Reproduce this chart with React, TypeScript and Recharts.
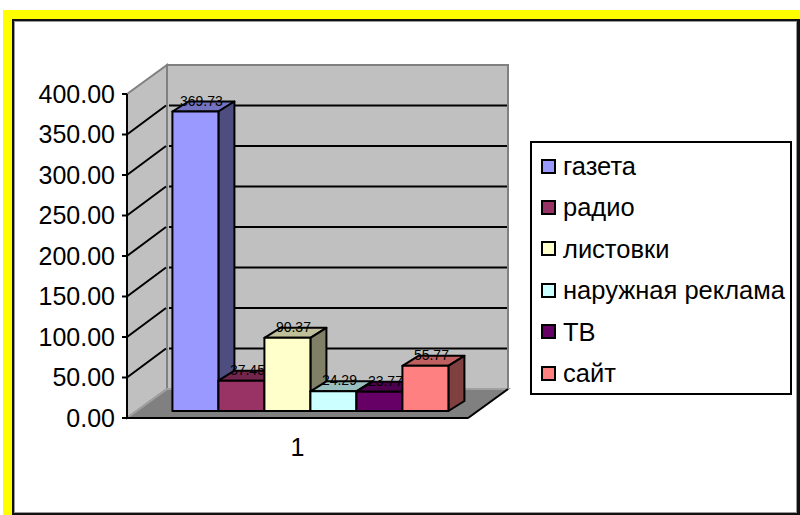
import React from "react";
import {
  BarChart,
  Bar,
  XAxis,
  YAxis,
  CartesianGrid,
  Legend,
  LabelList,
  usePlotArea,
} from "recharts";

// ─── Chart data ───────────────────────────────────────────
const categories = ["1"];
const seriesNames = ["газета", "радио", "листовки", "наружная реклама", "ТВ", "сайт"];
const seriesValues = [369.73, 37.45, 90.37, 24.29, 23.77, 55.77];
const yTicks = [0, 50, 100, 150, 200, 250, 300, 350, 400];

// front / top / side faces of each column
const frontColors = ["#9999FF", "#993366", "#FFFFCC", "#CCFFFF", "#660066", "#FF8080"];
const topColors = ["#7373BF", "#73264D", "#BFBF99", "#99BFBF", "#4D004D", "#BF6060"];
const sideColors = ["#4D4D80", "#4D1A33", "#808066", "#668080", "#330033", "#804040"];

const data = categories.map((category) => {
  const row: Record<string, string | number> = { category };
  seriesNames.forEach((name, i) => {
    row[name] = seriesValues[i];
  });
  return row;
});

// ─── 3D offsets ───────────────────────────────────────────
const WALL_DX = 40;
const WALL_DY = 29;
const BAR_DX = 16;
const BAR_DY = 10;
const BAR_SHIFT_X = 12; // the columns sit off-centre on the floor
const BAR_SHIFT_Y = 7; // and a little behind its front edge

const FONT = "'Liberation Sans', Arial, sans-serif";

// ─── Walls and floor ──────────────────────────────────────
function Walls() {
  const plot = usePlotArea();
  if (!plot) return null;
  const { x, y, width, height } = plot;
  const bottom = y + height;
  const right = x + width;
  return (
    <g>
      <polygon
        points={`${x},${y} ${x + WALL_DX},${y - WALL_DY} ${x + WALL_DX},${bottom - WALL_DY} ${x},${bottom}`}
        fill="#C0C0C0"
        stroke="#808080"
        strokeWidth={2}
      />
      <rect
        x={x + WALL_DX}
        y={y - WALL_DY}
        width={width}
        height={height}
        fill="#C0C0C0"
        stroke="#808080"
        strokeWidth={2}
      />
      <polygon
        points={`${x},${bottom} ${x + WALL_DX},${bottom - WALL_DY} ${right + WALL_DX},${bottom - WALL_DY} ${right},${bottom}`}
        fill="#808080"
        stroke="#A0A0A0"
        strokeWidth={2}
      />
      <line x1={x} y1={bottom} x2={right} y2={bottom} stroke="#000" strokeWidth={2} />
      <line x1={right} y1={bottom} x2={right + WALL_DX} y2={bottom - WALL_DY} stroke="#000" strokeWidth={2} />
    </g>
  );
}

// ─── Grid line running over side wall and back wall ───────
// walls come with the first grid line so that they stay behind the others
function gridLine(props: any) {
  const { x1, x2, y1, index } = props;
  if (index === 0) return <Walls key="walls" />;
  if (index === yTicks.length - 1) return <g key={`grid-${index}`} />;
  return (
    <g key={`grid-${index}`}>
      <line x1={x1} y1={y1} x2={x1 + WALL_DX - 1} y2={y1 - WALL_DY} stroke="#000" strokeWidth={2} />
      <line x1={x1 + WALL_DX + 2} y1={y1 - WALL_DY} x2={x2 + WALL_DX - 1} y2={y1 - WALL_DY} stroke="#000" strokeWidth={2} />
    </g>
  );
}

// ─── Column with front, top and side face ─────────────────
function makeColumn(seriesIndex: number) {
  return function Column(props: any) {
    const { y, width, height } = props;
    const x = props.x + BAR_SHIFT_X;
    const top = y - BAR_SHIFT_Y;
    const base = top + height;
    const right = x + width;
    return (
      <g stroke="#000" strokeWidth={2} strokeLinejoin="round">
        <polygon
          points={`${x},${top} ${x + BAR_DX},${top - BAR_DY} ${right + BAR_DX},${top - BAR_DY} ${right},${top}`}
          fill={topColors[seriesIndex]}
        />
        <polygon
          points={`${right},${top} ${right + BAR_DX},${top - BAR_DY} ${right + BAR_DX},${base - BAR_DY} ${right},${base}`}
          fill={sideColors[seriesIndex]}
        />
        <rect x={x} y={top} width={width} height={height} fill={frontColors[seriesIndex]} />
      </g>
    );
  };
}

function ValueLabel(props: any) {
  const { x, y, width, value } = props;
  return (
    <text
      x={x + BAR_SHIFT_X + width / 2 + 6}
      y={y - BAR_SHIFT_Y - 11}
      textAnchor="middle"
      dominantBaseline="central"
      fontSize={14}
      fill="#000"
      style={{ fontFamily: FONT }}
    >
      {Number(value).toFixed(2)}
    </text>
  );
}

// ─── Legend box ───────────────────────────────────────────
function LegendBox({ payload }: any) {
  return (
    <div
      style={{
        width: 258,
        height: 250,
        boxSizing: "content-box",
        border: "2px solid #000",
        background: "#fff",
        fontFamily: FONT,
        fontSize: 25.5,
        color: "#000",
        position: "relative",
      }}
    >
      {(payload || []).map((entry: any, i: number) => (
        <div
          key={entry.value}
          style={{
            position: "absolute",
            left: 9,
            top: 23 + i * 41.4 - 14,
            height: 28,
            lineHeight: "28px",
            whiteSpace: "nowrap",
            display: "flex",
            alignItems: "center",
          }}
        >
          <span
            style={{
              display: "inline-block",
              width: 11,
              height: 11,
              border: "2px solid #000",
              background: entry.color,
              marginRight: 7,
            }}
          />
          {entry.value}
        </div>
      ))}
    </div>
  );
}

export default function App() {
  return (
    <div style={{ position: "absolute", left: 0, top: 0, width: 800, height: 515, background: "#fff" }}>
      {/* yellow frame with black inner line and a thin grey shadow */}
      <div style={{ position: "absolute", left: 3, top: 10, width: 797, height: 505, background: "#FFFF00" }} />
      <div
        style={{
          position: "absolute",
          left: 12,
          top: 19,
          width: 788,
          height: 496,
          boxSizing: "border-box",
          background: "#fff",
          borderLeft: "2px solid #111",
          borderTop: "2px solid #111",
          borderRight: "3px solid #111",
          borderBottom: "2px solid #111",
          boxShadow: "inset 1px 1px 0 #999, inset -1px -1px 0 #999",
        }}
      />
      <div style={{ position: "absolute", left: 0, top: 0 }}>
        <BarChart
          width={800}
          height={515}
          data={data}
          margin={{ top: 94, right: 70, bottom: 37, left: 27 }}
          barCategoryGap="9.8%"
          barGap={0}
        >
          <CartesianGrid vertical={false} horizontal={gridLine} />
          <XAxis
            dataKey="category"
            axisLine={false}
            tickLine={false}
            height={60}
            tick={{ fontSize: 25, fill: "#000", fontFamily: FONT }}
            tickMargin={14}
          />
          <YAxis
            domain={[0, 400]}
            ticks={yTicks}
            interval={0}
            tickFormatter={(v: number) => v.toFixed(2)}
            axisLine={{ stroke: "#000", strokeWidth: 2 }}
            tickLine={{ stroke: "#000", strokeWidth: 2 }}
            tickSize={5}
            tickMargin={7}
            width={100}
            tick={{ fontSize: 25, fill: "#000", fontFamily: FONT }}
          />
          {seriesNames.map((name, i) => (
            <Bar key={name} dataKey={name} isAnimationActive={false} shape={makeColumn(i)} fill={frontColors[i]}>
              <LabelList dataKey={name} content={ValueLabel} />
            </Bar>
          ))}
          <Legend
            content={<LegendBox />}
            layout="vertical"
            verticalAlign="top"
            align="right"
            itemSorter={null}
            wrapperStyle={{ position: "absolute", left: 530, top: 141, width: 262 }}
          />
        </BarChart>
      </div>
    </div>
  );
}
